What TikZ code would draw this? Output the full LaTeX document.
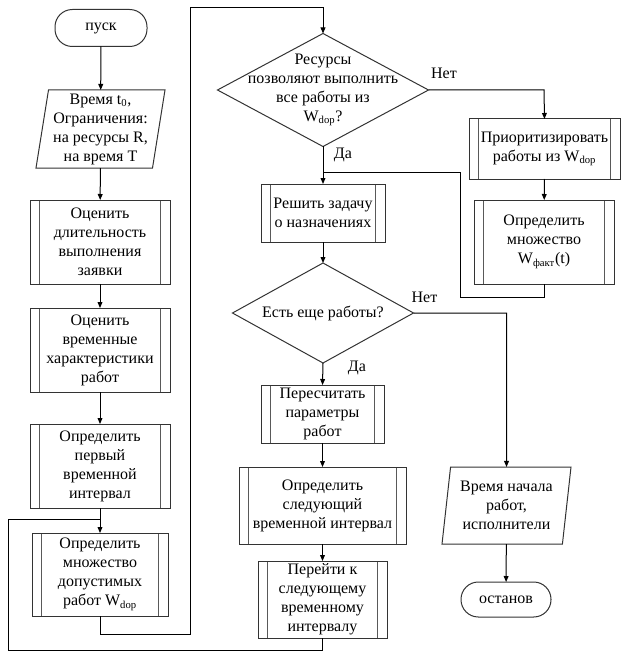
\documentclass[tikz,border=0pt]{standalone}
\usepackage{fontspec}
\setmainfont{Liberation Serif}
\newfontfamily\tnr{Liberation Serif}
\usetikzlibrary{shapes.geometric,arrows.meta}
\begin{document}
\begin{tikzpicture}[x=0.75pt,y=-0.75pt,
  every node/.style={inner sep=0pt, outer sep=0pt, align=center, font=\tnr\fontsize{12}{14.25}\selectfont},
  shp/.style={draw=black!80, line width=0.75pt},
  term/.style={shp, rectangle, rounded corners=13pt},
  proc/.style={shp, rectangle,
    path picture={
      \draw[black!65, line width=0.75pt] ([xshift=7pt]path picture bounding box.north west) -- ([xshift=7pt]path picture bounding box.south west);
      \draw[black!65, line width=0.75pt] ([xshift=-7pt]path picture bounding box.north east) -- ([xshift=-7pt]path picture bounding box.south east);}},
  para/.style={shp, trapezium, trapezium left angle=80, trapezium right angle=100, trapezium stretches body},
  dia/.style={shp, diamond},
  line/.style={draw=black, line width=0.75pt},
  arr/.style={line, -{Triangle[length=4.5pt,width=3.6pt]}},
  lbl/.style={font=\tnr\fontsize{12}{14.25}\selectfont}
]
\useasboundingbox (0,0) rectangle (624,663);

% left column
\node[term, minimum width=69pt, minimum height=27.75pt] (start) at (101,28) {пуск};
\node[para, minimum width=96.75pt, minimum height=58.5pt] (in1) at (100.5,129) {Время t\textsubscript{0},\\Ограничения:\\на ресурсы R,\\на время T};
\node[proc, minimum width=105pt, minimum height=63pt] (b1) at (100,242) {Оценить\\длительность\\выполнения\\заявки};
\node[proc, minimum width=105pt, minimum height=63pt] (b2) at (100,350) {Оценить\\временные\\характеристики\\работ};
\node[proc, minimum width=105pt, minimum height=63pt] (b3) at (100,466) {Определить\\первый\\временной\\интервал};
\node[proc, minimum width=102pt, minimum height=62.25pt] (b4) at (100,574.5) {Определить\\множество\\допустимых\\работ W\textsubscript{dop}};

% middle column
\node[dia, minimum width=158.25pt, minimum height=84.75pt] (d1) at (323,90) {};
\node at (d1.center) {Ресурсы\\позволяют выполнить\\все работы из\\W\textsubscript{dop}?};
\node[proc, minimum width=93pt, minimum height=43.5pt] (b5) at (323,213) {Решить задачу\\о назначениях};
\node[dia, minimum width=135.75pt, minimum height=75pt] (d2) at (323,313) {};
\node at (d2.center) {Есть еще работы?};
\node[proc, minimum width=92.25pt, minimum height=43.5pt] (b6) at (322.5,414) {Пересчитать\\параметры\\работ};
\node[proc, minimum width=125.25pt, minimum height=57.75pt] (b7) at (322.5,505.5) {Определить\\следующий\\временной интервал};
\node[proc, minimum width=96.75pt, minimum height=57.75pt] (b8) at (322.5,599.5) {Перейти к\\следующему\\временному\\интервалу};

% right column
\node[proc, minimum width=113.25pt, minimum height=45pt] (p1) at (544.5,149) {Приоритизировать\\работы из W\textsubscript{dop}};
\node[proc, minimum width=105pt, minimum height=63pt] (p2) at (544,242) {Определить\\множество\\W\textsubscript{факт}(t)};
\node[para, minimum width=96.75pt, minimum height=57.75pt] (out) at (506.5,505.5) {Время начала\\работ,\\исполнители};
\node[term, minimum width=67.5pt, minimum height=26.25pt] (stop) at (506,599.5) {останов};

% labels
\node[lbl] (l1) at (444,73) {Нет};
\node[lbl] (l2) at (343,155) {Да};
\node[lbl] (l3) at (424.5,297) {Нет};
\node[lbl] (l4) at (357,368) {Да};

% junction coordinates
\coordinate (j1) at (100,519);
\coordinate (j2) at (323,172);

% connectors
\draw[arr] (start) -- (in1);
\draw[arr] (in1) -- (b1);
\draw[arr] (b1) -- (b2);
\draw[arr] (b2) -- (b3);
\draw[arr] (b3) -- (b4);
\draw[arr] (b4.south) -- (100,634) -- (190,634) -- (190,8) -- (323,8) -- (d1.north);
\draw[arr] (d1.east) -- (544,90) -- (p1.north);
\draw[arr] (p1) -- (p2);
\draw[line] (p2.south) -- (544,297) -- (460,297) -- (460,172) -- (j2);
\draw[arr] (d1.south) -- (b5.north);
\draw[arr] (b5) -- (d2);
\draw[arr] (d2.east) -- (506.5,313) -- (out.north);
\draw[arr] (d2.south) -- (b6.north);
\draw[arr] (b6) -- (b7);
\draw[arr] (b7) -- (b8);
\draw[line] (b8.south) -- (322.5,650) -- (8,650) -- (8,519) -- (j1);
\draw[arr] (out) -- (stop);
\end{tikzpicture}
\end{document}
